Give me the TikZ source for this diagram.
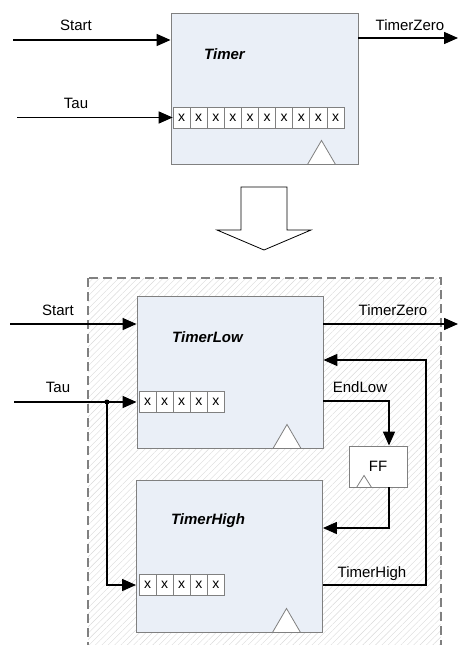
\documentclass[tikz,border=0pt]{standalone}
\usepackage{fontspec}
\setmainfont{Liberation Sans}
\usetikzlibrary{positioning,arrows.meta,patterns.meta}

\definecolor{boxfill}{HTML}{EAEFF7}
\definecolor{boxline}{HTML}{808080}

\begin{document}
\begin{tikzpicture}[x=1pt, y=-1pt,
  block/.style={draw=boxline, line width=0.9pt, fill=boxfill, minimum width=186pt, minimum height=152pt, inner sep=0pt},
  cell/.style={draw=boxline, line width=0.8pt, fill=white, minimum width=17.1pt, minimum height=21pt, inner sep=0pt, node distance=17.1pt, font=\fontsize{14}{16}\selectfont},
  blockname/.style={font=\fontsize{15}{18}\selectfont\bfseries\itshape},
  lbl/.style={font=\fontsize{15}{18}\selectfont},
  sig/.style={-{Triangle[length=14pt,width=12pt]}, line width=1.5pt},
  wire/.style={line width=1.5pt},
  clock/.style={draw=boxline, line width=0.8pt, fill=white}]

  \useasboundingbox (0,0) rectangle (458,645);
  \clip (0,0) rectangle (458,645);

  % Timer block
  \node[block, minimum width=187pt, minimum height=151pt] (T) at (264.5,88.5) {};
  \node[blockname] (Tn) at (224.5,54) {Timer};
  \draw[clock] ([xshift=43pt]T.south) -- ([xshift=57pt,yshift=24pt]T.south) -- ([xshift=71pt]T.south) -- cycle;

  % Timer register
  \node[cell] (T1) at (181.6,117.5) {x};
  \node[cell, right of=T1] (T2) {x};
  \node[cell, right of=T2] (T3) {x};
  \node[cell, right of=T3] (T4) {x};
  \node[cell, right of=T4] (T5) {x};
  \node[cell, right of=T5] (T6) {x};
  \node[cell, right of=T6] (T7) {x};
  \node[cell, right of=T7] (T8) {x};
  \node[cell, right of=T8] (T9) {x};
  \node[cell, right of=T9] (T10) {x};

  % Timer signals
  \coordinate (startA) at (13,40);
  \draw[sig] (startA) -- (startA -| T.west);
  \node[lbl] (startAl) at (76,25) {Start};
  \coordinate (tauA) at (17,117.5);
  \draw[sig] (tauA) -- (T1.west);
  \node[lbl] (tauAl) at (76,103) {Tau};
  \coordinate (zeroA) at (458,38);
  \draw[sig] (T.east |- zeroA) -- (zeroA);
  \node[lbl] (zeroAl) at (410,25) {TimerZero};

  % Hollow arrow
  \draw[line width=0.8pt, fill=white] (241,187) -- (287,187) -- (287,230) -- (311,230) -- (264,250) -- (217,230) -- (241,230) -- cycle;

  % Dashed frame
  \draw[draw=boxline, line width=1.8pt, dash pattern=on 9pt off 5pt, pattern={Lines[angle=45, distance=4.5pt, line width=0.4pt]}, pattern color=gray!30] (88,278) rectangle (441,665);

  % TimerLow and TimerHigh blocks
  \node[block] (TL) at (230,372) {};
  \node[blockname] (TLn) at (207.5,337) {TimerLow};
  \draw[clock] ([xshift=43pt]TL.south) -- ([xshift=57pt,yshift=24pt]TL.south) -- ([xshift=71pt]TL.south) -- cycle;
  \node[block] (TH) at (229.5,556) {};
  \node[blockname] (THn) at (208,521) {TimerHigh};
  \draw[clock] ([xshift=43pt]TH.south) -- ([xshift=57pt,yshift=24pt]TH.south) -- ([xshift=71pt]TH.south) -- cycle;

  % FF
  \node[draw=boxline, line width=0.9pt, fill=white, minimum width=58pt, minimum height=41pt, inner sep=0pt, lbl] (FF) at (378,466.5) {FF};
  \draw[clock] ([xshift=8pt]FF.south west) -- ([xshift=15.5pt,yshift=12pt]FF.south west) -- ([xshift=23pt]FF.south west) -- cycle;

  % Registers
  \node[cell] (L1) at (147.5,401.5) {x};
  \node[cell, right of=L1] (L2) {x};
  \node[cell, right of=L2] (L3) {x};
  \node[cell, right of=L3] (L4) {x};
  \node[cell, right of=L4] (L5) {x};
  \node[cell] (H1) at (147.5,585) {x};
  \node[cell, right of=H1] (H2) {x};
  \node[cell, right of=H2] (H3) {x};
  \node[cell, right of=H3] (H4) {x};
  \node[cell, right of=H4] (H5) {x};

  % Inputs
  \coordinate (startB) at (10,324);
  \draw[sig] (startB) -- (startB -| TL.west);
  \node[lbl] (startBl) at (58,310) {Start};
  \coordinate (tauB) at (14,402);
  \coordinate (split) at (107,402);
  \draw[sig] (tauB) -- (tauB -| TL.west);
  \draw[sig] (split) |- (TH.west |- H1);
  \fill (split) circle (2.5pt);
  \node[lbl] (tauBl) at (58,387) {Tau};

  % Outputs and feedback
  \coordinate (zeroB) at (458,324);
  \draw[sig] (TL.east |- zeroB) -- (zeroB);
  \node[lbl] (zeroBl) at (393,310) {TimerZero};
  \coordinate (endlow) at (389,401);
  \draw[sig] (TL.east |- endlow) -| (endlow |- FF.north);
  \node[lbl] (endlowl) at (360,387) {EndLow};
  \coordinate (ffout) at (389,528);
  \draw[sig] (endlow |- FF.south) -- (ffout) -- (ffout -| TH.east);
  \coordinate (fbk) at (426,360);
  \draw[sig] (TH.east |- H1) -| (fbk) -- (fbk -| TL.east);
  \node[lbl] (highl) at (372,574) {TimerHigh};

\end{tikzpicture}
\end{document}
